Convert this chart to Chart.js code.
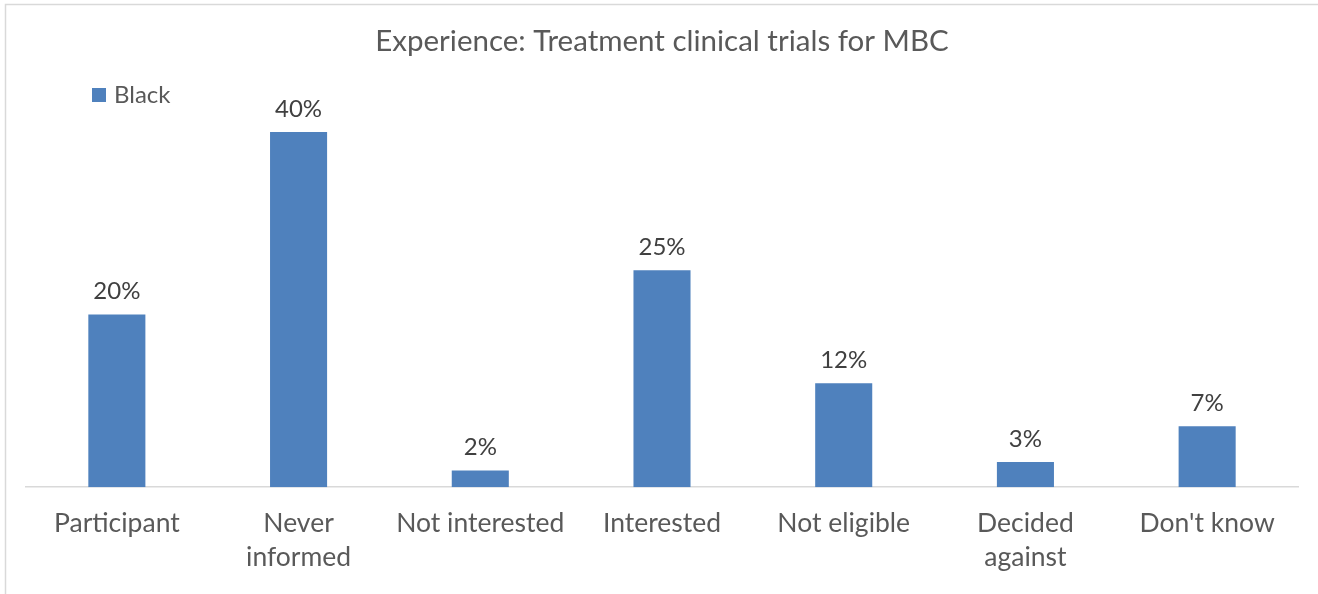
<!DOCTYPE html>
<html>
<head>
<meta charset="utf-8">
<script src="https://cdn.jsdelivr.net/npm/chart.js@4"></script>
<style>
  html, body { margin: 0; padding: 0; background: #fff; }
  #wrap { width: 1318px; height: 594px; position: relative; }
</style>
</head>
<body>
<div id="wrap"><canvas id="chart"></canvas></div>
<script>
// Chart data
const categories = ['Participant', ['Never', 'informed'], 'Not interested', 'Interested', 'Not eligible', ['Decided', 'against'], "Don't know"];
const seriesName = 'Black';
const blackValues = [19.6, 40.3, 1.9, 24.6, 11.8, 2.85, 6.9];

const barColor = '#4F81BD';
const textColor = '#595959';
const fontFamily = 'Lato, "Open Sans", sans-serif';

// Outer frame like the exported chart
const framePlugin = {
    id: 'frame',
    beforeDraw(chart) {
        const ctx = chart.ctx;
        ctx.save();
        ctx.fillStyle = '#fff';
        ctx.fillRect(0, 0, chart.width, chart.height);
        ctx.strokeStyle = '#d9d9d9';
        ctx.lineWidth = 1.5;
        ctx.strokeRect(5.5, 4.5, chart.width + 20, chart.height + 20);
        ctx.restore();
    }
};

// Value labels above each bar
const valueLabels = {
    id: 'valueLabels',
    afterDatasetsDraw(chart) {
        const ctx = chart.ctx;
        const meta = chart.getDatasetMeta(0);
        ctx.save();
        ctx.font = '24px ' + fontFamily;
        ctx.fillStyle = '#404040';
        ctx.textAlign = 'center';
        ctx.textBaseline = 'middle';
        meta.data.forEach((bar, i) => {
            const v = chart.data.datasets[0].data[i];
            ctx.fillText(Math.round(v) + '%', bar.x, bar.y - 23);
        });
        ctx.restore();
    }
};

// Small legend at the top left
const legendBox = {
    id: 'legendBox',
    afterDraw(chart) {
        const ctx = chart.ctx;
        ctx.save();
        ctx.fillStyle = barColor;
        ctx.fillRect(92, 88, 14, 14);
        ctx.font = '24px ' + fontFamily;
        ctx.fillStyle = textColor;
        ctx.textBaseline = 'middle';
        ctx.fillText(seriesName, 114, 95);
        ctx.restore();
    }
};

const ctx = document.getElementById('chart').getContext('2d');
const chart = new Chart(ctx, {
    type: 'bar',
    data: {
        labels: categories,
        datasets: [{
            label: seriesName,
            data: blackValues,
            backgroundColor: barColor,
            borderWidth: 0,
            categoryPercentage: 1,
            barPercentage: 0.314
        }]
    },
    options: {
        responsive: true,
        maintainAspectRatio: false,
        animation: false,
        layout: {
            padding: { left: 26, right: 20, top: 0, bottom: 1 }
        },
        plugins: {
            legend: { display: false },
            tooltip: { enabled: false },
            title: {
                display: true,
                text: 'Experience: Treatment clinical trials for MBC',
                color: textColor,
                font: { family: fontFamily, size: 29.5, weight: 'normal', lineHeight: 1.2 },
                padding: { top: 24, bottom: 57.6 }
            }
        },
        scales: {
            x: {
                grid: { display: false, drawTicks: false, tickLength: 0 },
                border: { display: true, color: '#d9d9d9', width: 1.5 },
                ticks: {
                    color: textColor,
                    font: { family: fontFamily, size: 26.5, lineHeight: 1.28 },
                    padding: 19,
                    maxRotation: 0,
                    autoSkip: false
                }
            },
            y: {
                display: false,
                min: 0,
                max: 42
            }
        }
    },
    plugins: [framePlugin, valueLabels, legendBox]
});
</script>
</body>
</html>
